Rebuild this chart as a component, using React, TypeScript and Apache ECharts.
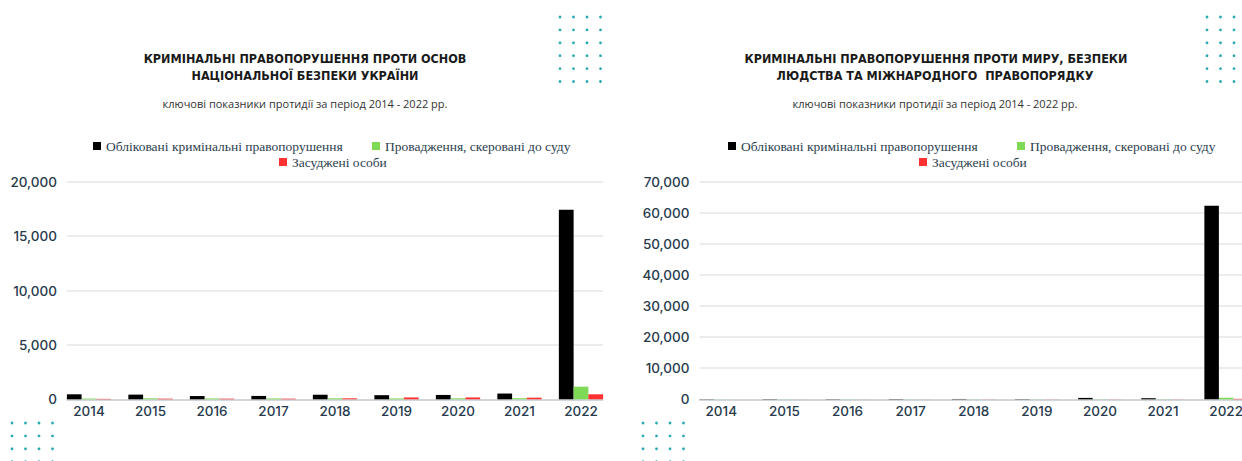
import React, { useEffect, useRef } from "react";
import * as echarts from "echarts";

const years = ["2014", "2015", "2016", "2017", "2018", "2019", "2020", "2021", "2022"];
const seriesNames = [
  "Обліковані кримінальні правопорушення",
  "Провадження, скеровані до суду",
  "Засуджені особи",
];
const colors = ["#000000", "#7ed957", "#ff3131"];

// Left chart: crimes against the foundations of national security
const leftRegistered = [460, 430, 300, 310, 420, 380, 400, 530, 17430];
const leftToCourt = [70, 90, 80, 80, 90, 80, 90, 100, 1160];
const leftConvicted = [40, 60, 60, 60, 90, 170, 170, 150, 460];
const leftTicks = [0, 5000, 10000, 15000, 20000];

// Right chart: crimes against peace, security of mankind and international order
const rightRegistered = [60, 80, 70, 90, 110, 120, 450, 350, 62200];
const rightToCourt = [20, 30, 30, 30, 40, 40, 60, 60, 500];
const rightConvicted = [10, 20, 20, 20, 30, 30, 30, 30, 150];
const rightTicks = [0, 10000, 20000, 30000, 40000, 50000, 60000, 70000];

const leftTitle = ["КРИМІНАЛЬНІ ПРАВОПОРУШЕННЯ ПРОТИ ОСНОВ", "НАЦІОНАЛЬНОЇ БЕЗПЕКИ УКРАЇНИ"];
const rightTitle = ["КРИМІНАЛЬНІ ПРАВОПОРУШЕННЯ ПРОТИ МИРУ, БЕЗПЕКИ", "ЛЮДСТВА ТА МІЖНАРОДНОГО  ПРАВОПОРЯДКУ"];
const subtitle = "ключові показники протидії за період 2014 - 2022 рр.";

const labelColor = "#273a4d";
const numFont = "Inter";

function fmt(v: number) {
  return v.toLocaleString("en-US");
}

function dots(x0: number, y0: number, cols: number, rows: number) {
  const out: any[] = [];
  for (let r = 0; r < rows; r++) {
    for (let c = 0; c < cols; c++) {
      out.push({
        type: "circle",
        silent: true,
        shape: { cx: x0 + c * 13.5, cy: y0 + r * 12.9, r: 1.4 },
        style: { fill: "#2aa9b3" },
      });
    }
  }
  return out;
}

function textEl(text: string, x: number, y: number, font: any) {
  return {
    type: "text",
    x,
    y,
    silent: true,
    style: {
      text,
      fill: font.color,
      font: `${font.weight} ${font.size}px ${font.family}`,
      fontFamily: font.family,
      fontSize: font.size,
      fontWeight: font.weight,
      align: "center",
      verticalAlign: "middle",
      textAlign: "center",
      textVerticalAlign: "middle",
    },
  };
}

export default function App() {
  const ref = useRef<HTMLDivElement>(null);

  useEffect(() => {
    if (!ref.current) return;
    const chart = echarts.init(ref.current, undefined, { renderer: "svg" });

    const titleFont = { family: "'DejaVu Sans Condensed'", size: 12.5, weight: "bold", color: "#1a1a1a" };
    const subFont = { family: "'Open Sans'", size: 11, weight: "normal", color: "#333333" };

    const grids = [
      { left: 67, width: 536, top: 181.7, bottom: 61.7, outerBoundsMode: "none", containLabel: false },
      { left: 58.25, width: 553.5, top: 181.7, bottom: 61.7, outerBoundsMode: "none", containLabel: false },
      { left: 699.5, width: 560, top: 181.5, bottom: 61.7, outerBoundsMode: "none", containLabel: false },
      { left: 689.7, width: 568, top: 181.5, bottom: 61.7, outerBoundsMode: "none", containLabel: false },
    ];

    const baseX = (gridIndex: number, showLine: boolean, showLabel: boolean) => ({
      type: "category",
      gridIndex,
      data: years,
      axisTick: { show: false },
      axisLine: { show: showLine, lineStyle: { color: "#c9cfd5", width: 1.5 } },
      axisLabel: {
        show: showLabel,
        color: labelColor,
        fontFamily: numFont,
        fontSize: 13.5,
        fontWeight: 500,
        margin: 5,
      },
      splitLine: { show: false },
    });

    const baseY = (gridIndex: number, max: number, interval: number, visible: boolean) => ({
      type: "value",
      gridIndex,
      min: 0,
      max,
      interval,
      axisLine: { show: false },
      axisTick: { show: false },
      axisLabel: {
        show: visible,
        color: labelColor,
        fontFamily: numFont,
        fontSize: 13.5,
        fontWeight: 500,
        margin: 10,
        formatter: (v: number) => fmt(v),
      },
      splitLine: { show: visible, lineStyle: { color: "#e4e6e9", width: 1.5 } },
    });

    const barSeries = (name: string, data: number[], color: string, axisIdx: number, gap: string) => ({
      type: "bar",
      name,
      data,
      xAxisIndex: axisIdx,
      yAxisIndex: axisIdx,
      barGap: "0%",
      barCategoryGap: gap,
      itemStyle: { color },
    });

    const legendItem = (name: string, left: number, top: number) => ({
      show: true,
      data: [name],
      left,
      top,
      icon: "rect",
      itemWidth: 8,
      itemHeight: 8,
      itemGap: 10,
      textStyle: { fontFamily: "'Liberation Serif'", fontSize: 13.5, color: "#2c3e50" },
    });

    chart.setOption({
      animation: false,
      backgroundColor: "#ffffff",
      color: colors,
      grid: grids,
      xAxis: [baseX(0, true, false), baseX(1, false, true), baseX(2, true, false), baseX(3, false, true)],
      yAxis: [
        baseY(0, leftTicks[leftTicks.length - 1], leftTicks[1] - leftTicks[0], true),
        baseY(1, leftTicks[leftTicks.length - 1], leftTicks[1] - leftTicks[0], false),
        baseY(2, rightTicks[rightTicks.length - 1], rightTicks[1] - rightTicks[0], true),
        baseY(3, rightTicks[rightTicks.length - 1], rightTicks[1] - rightTicks[0], false),
      ],
      legend: [
        legendItem(seriesNames[0], 88, 134),
        legendItem(seriesNames[1], 367, 134),
        legendItem(seriesNames[2], 274, 150),
        legendItem(seriesNames[0], 723, 134),
        legendItem(seriesNames[1], 1012, 134),
        legendItem(seriesNames[2], 914, 150),
      ],
      series: [
        barSeries(seriesNames[0], leftRegistered, colors[0], 1, "28%"),
        barSeries(seriesNames[1], leftToCourt, colors[1], 1, "28%"),
        barSeries(seriesNames[2], leftConvicted, colors[2], 1, "28%"),
        barSeries(seriesNames[0], rightRegistered, colors[0], 3, "31%"),
        barSeries(seriesNames[1], rightToCourt, colors[1], 3, "31%"),
        barSeries(seriesNames[2], rightConvicted, colors[2], 3, "31%"),
      ],
      graphic: [
        textEl(leftTitle[0], 305, 58, titleFont),
        textEl(leftTitle[1], 305, 75, titleFont),
        textEl(subtitle, 305, 103, subFont),
        textEl(rightTitle[0], 936, 58, titleFont),
        textEl(rightTitle[1], 935, 75, titleFont),
        textEl(subtitle, 935, 103, subFont),
        ...dots(560, 17, 4, 6),
        ...dots(1207, 17, 4, 6),
        ...dots(12, 423, 4, 4),
        ...dots(643, 423, 4, 4),
      ],
    });

    return () => chart.dispose();
  }, []);

  return (
    <div
      ref={ref}
      style={{ position: "fixed", left: 0, top: 0, width: 1242, height: 461, background: "#fff" }}
    />
  );
}
